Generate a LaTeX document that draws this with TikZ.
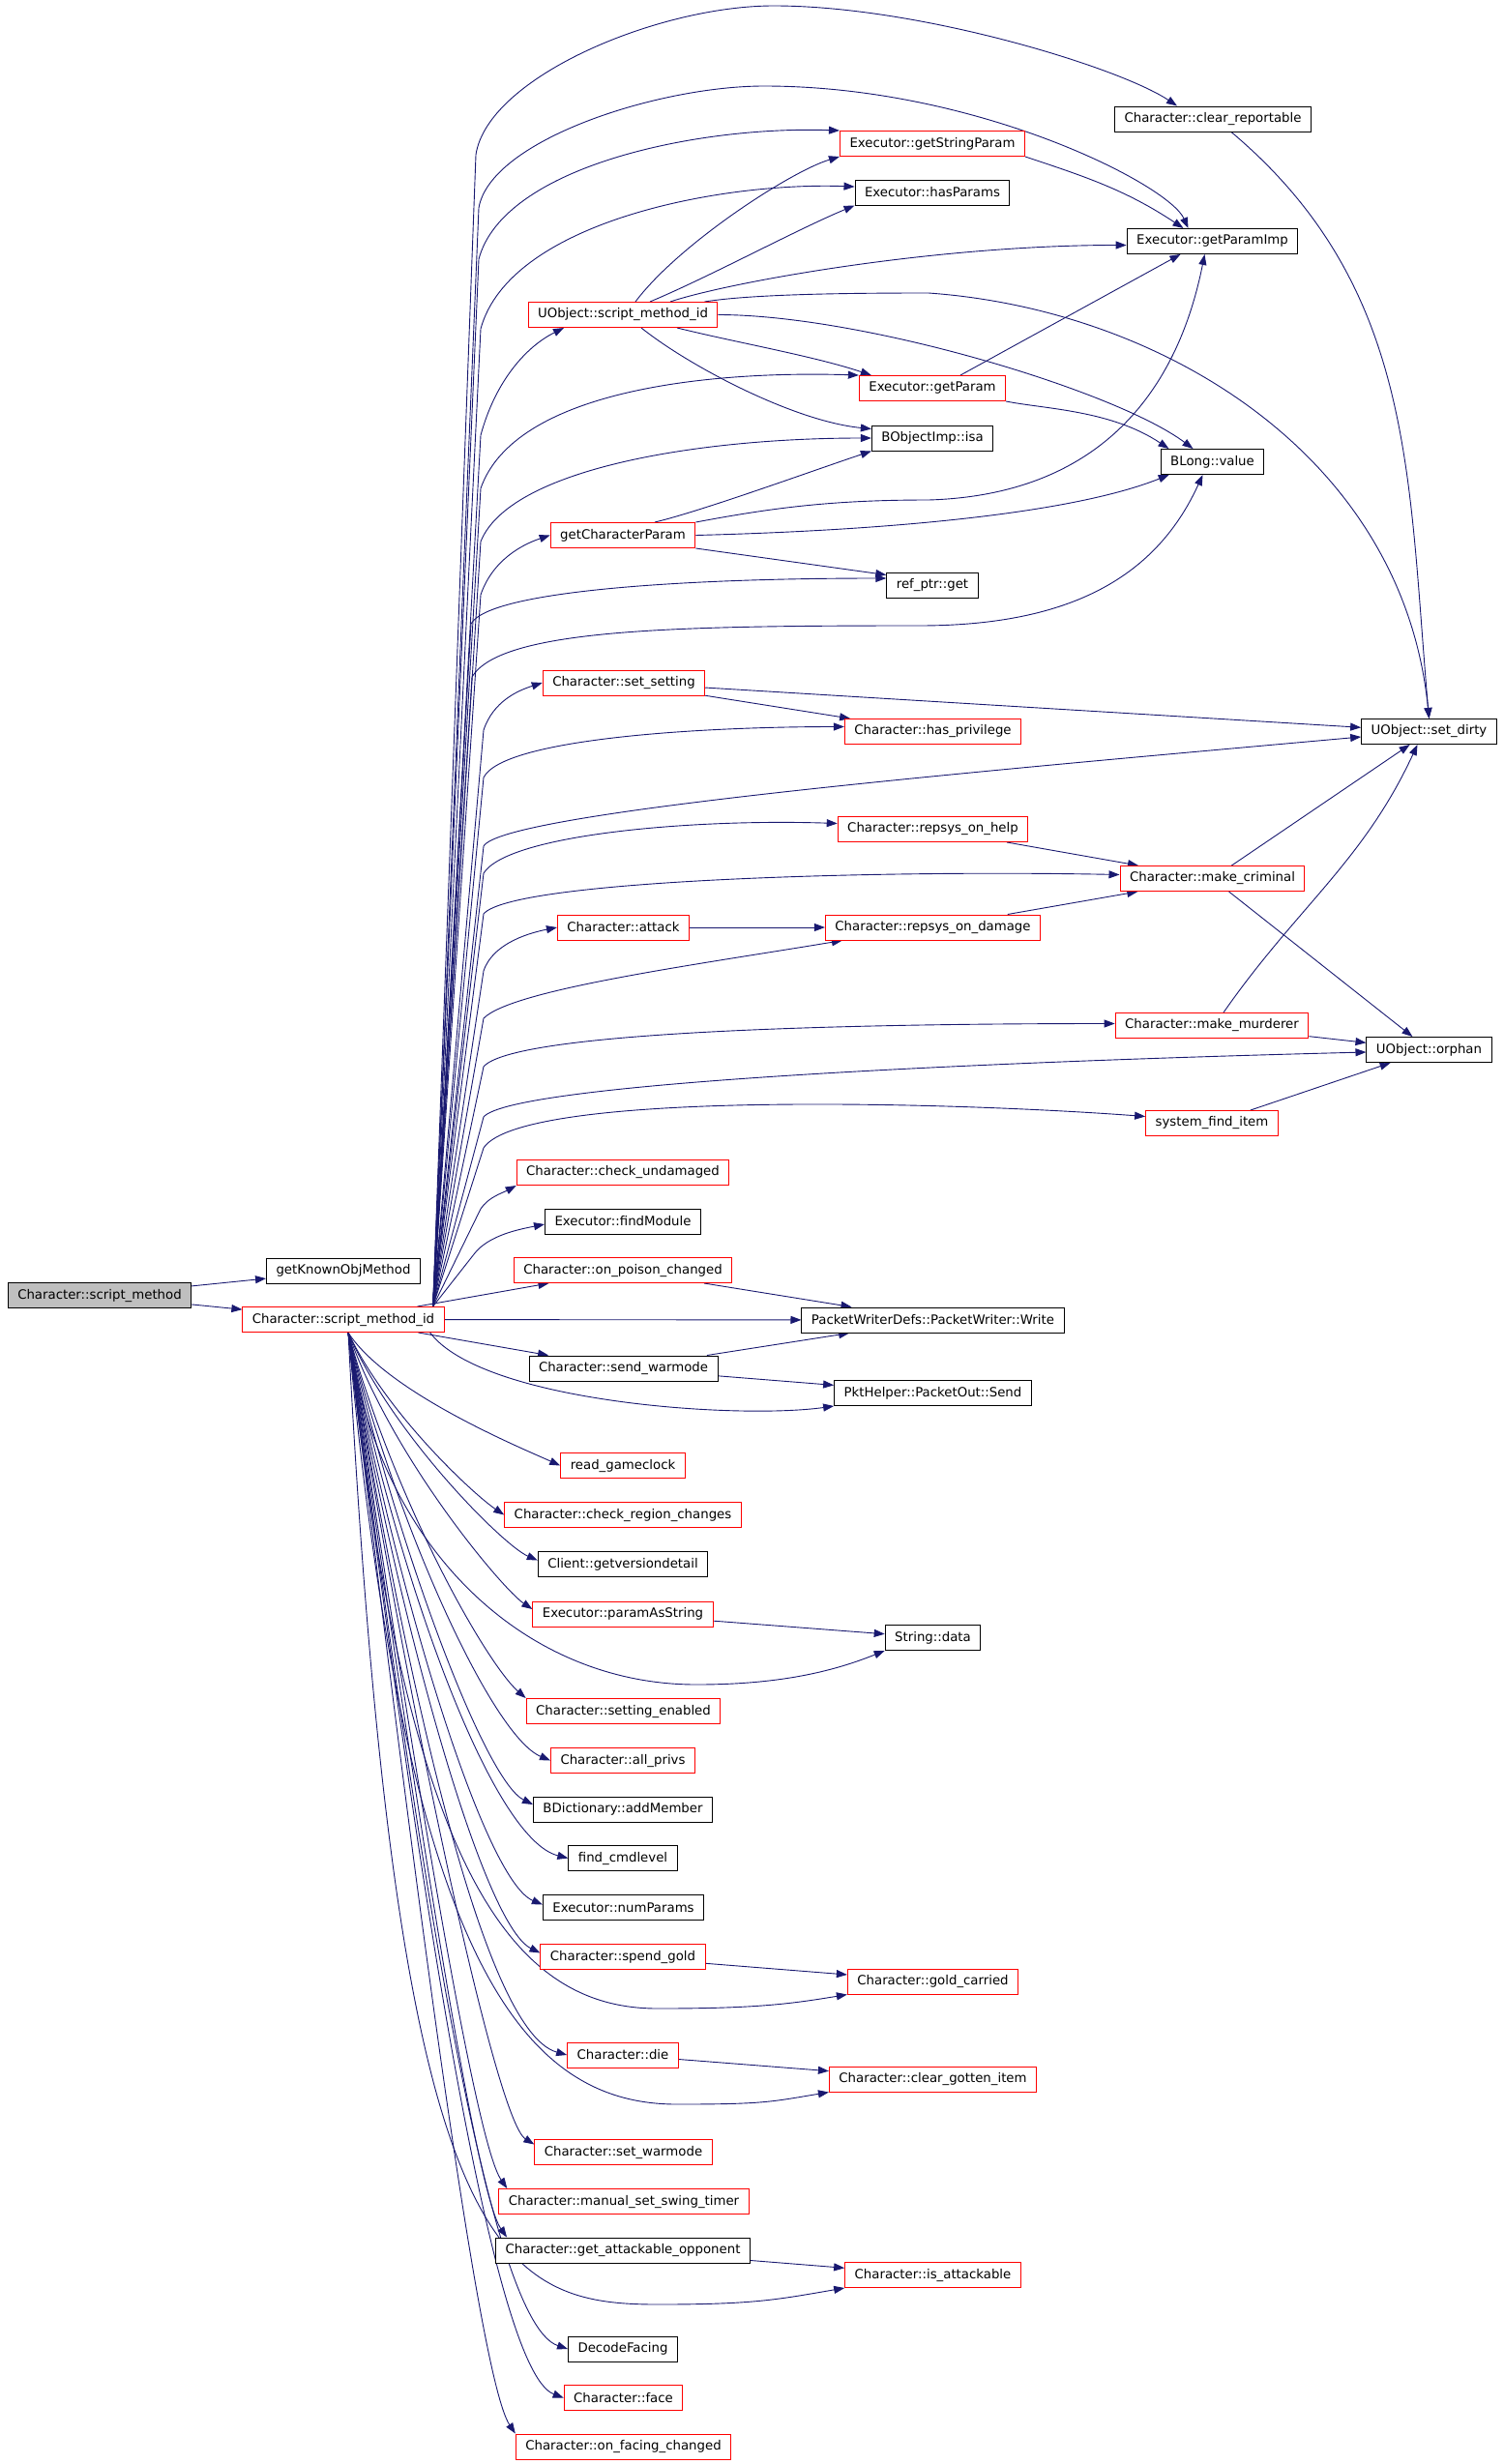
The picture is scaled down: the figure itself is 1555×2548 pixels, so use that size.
\documentclass[tikz,border=0pt]{standalone}
\usepackage{fontspec}
\setmainfont{DejaVu Sans}
\usetikzlibrary{arrows.meta,backgrounds}
\definecolor{edgeblue}{HTML}{191970}
\definecolor{rootgray}{HTML}{BFBFBF}

\begin{document}
\begin{tikzpicture}[x=1pt,y=1pt,
    fn/.style={draw=black, line width=1pt, fill=white, font=\fontsize{13.3}{16}\selectfont,
               minimum height=26pt, inner xsep=10pt, inner ysep=0pt},
    fnred/.style={fn, draw=red},
    call/.style={draw=edgeblue, line width=0.9pt, -{Triangle[length=11pt,width=8pt]}}]

        \useasboundingbox (0,0) rectangle (1555,-2548);

        % Radice e primo livello
        \node[fn, fill=rootgray] (root) at (103,-1339.5) {Character::script\_method};
        \node[fn] (gkom) at (355,-1314) {getKnownObjMethod};
        \node[fnred] (smid) at (355,-1364.5) {Character::script\_method\_id};

        % Seconda colonna
        \node[fnred] (uosmid) at (644,-325.5) {UObject::script\_method\_id};
        \node[fnred] (gcp) at (644,-553.5) {getCharacterParam};
        \node[fnred] (sset) at (645,-706) {Character::set\_setting};
        \node[fnred] (atk) at (644.5,-959) {Character::attack};
        \node[fnred] (chku) at (644,-1212.5) {Character::check\_undamaged};
        \node[fn] (fmod) at (644,-1263) {Executor::findModule};
        \node[fnred] (poison) at (644,-1313.5) {Character::on\_poison\_changed};
        \node[fn] (swarm) at (644.5,-1415) {Character::send\_warmode};
        \node[fnred] (rgc) at (644,-1515.5) {read\_gameclock};
        \node[fnred] (crc) at (644,-1566.5) {Character::check\_region\_changes};
        \node[fn] (gvd) at (644,-1617.5) {Client::getversiondetail};
        \node[fnred] (pas) at (644,-1669) {Executor::paramAsString};
        \node[fnred] (senab) at (644.5,-1769.5) {Character::setting\_enabled};
        \node[fnred] (aprivs) at (644,-1820.5) {Character::all\_privs};
        \node[fn] (addm) at (644,-1871) {BDictionary::addMember};
        \node[fn] (fcmd) at (644,-1921.5) {find\_cmdlevel};
        \node[fn] (nump) at (644.5,-1972.5) {Executor::numParams};
        \node[fnred] (spend) at (644,-2023.5) {Character::spend\_gold};
        \node[fnred] (die) at (644,-2125) {Character::die};
        \node[fnred] (setwm) at (644.5,-2225.5) {Character::set\_warmode};
        \node[fnred] (mswing) at (645,-2276.5) {Character::manual\_set\_swing\_timer};
        \node[fn] (gao) at (644,-2327) {Character::get\_attackable\_opponent};
        \node[fn] (decf) at (644,-2429) {DecodeFacing};
        \node[fnred] (face) at (644.5,-2479.5) {Character::face};
        \node[fnred] (ofc) at (644.5,-2530) {Character::on\_facing\_changed};

        % Terza colonna
        \node[fnred] (gsp) at (964,-148.5) {Executor::getStringParam};
        \node[fn] (hasp) at (964,-199) {Executor::hasParams};
        \node[fnred] (gparam) at (964,-401.5) {Executor::getParam};
        \node[fn] (isa) at (964,-453) {BObjectImp::isa};
        \node[fn] (refget) at (964,-605) {ref\_ptr::get};
        \node[fnred] (hpriv) at (964.5,-756.5) {Character::has\_privilege};
        \node[fnred] (rhelp) at (964.5,-857.5) {Character::repsys\_on\_help};
        \node[fnred] (rdmg) at (964.5,-959) {Character::repsys\_on\_damage};
        \node[fn] (pwrite) at (964.5,-1365) {PacketWriterDefs::PacketWriter::Write};
        \node[fn] (psend) at (964.5,-1440.5) {PktHelper::PacketOut::Send};
        \node[fn] (sdata) at (964.5,-1693.5) {String::data};
        \node[fnred] (gold) at (964.5,-2049) {Character::gold\_carried};
        \node[fnred] (cgi) at (964.5,-2150) {Character::clear\_gotten\_item};
        \node[fnred] (isatk) at (964.5,-2352.5) {Character::is\_attackable};

        % Quarta e quinta colonna
        \node[fn] (crep) at (1254,-123) {Character::clear\_reportable};
        \node[fn] (gpi) at (1253.5,-249.5) {Executor::getParamImp};
        \node[fn] (blong) at (1253.5,-477.5) {BLong::value};
        \node[fnred] (mcrim) at (1253.5,-908.5) {Character::make\_criminal};
        \node[fnred] (mmurd) at (1253,-1060.5) {Character::make\_murderer};
        \node[fnred] (sfi) at (1253,-1161.5) {system\_find\_item};
        \node[fn] (sdirty) at (1477.5,-756.5) {UObject::set\_dirty};
        \node[fn] (orphan) at (1477.5,-1085.5) {UObject::orphan};

        \coordinate (up) at ([xshift=-12pt]smid.north east);
        \coordinate (dn) at ([xshift=5pt]smid.south);

        \begin{scope}[on background layer]
        % Archi dritti
        \foreach \a/\b in {root/gkom, root/smid, smid/poison, smid/pwrite, smid/swarm,
                           sset/hpriv, sset/sdirty, rhelp/mcrim, atk/rdmg, rdmg/mcrim,
                           mcrim/sdirty, mcrim/orphan, mmurd/orphan, sfi/orphan,
                           poison/pwrite, swarm/pwrite, swarm/psend, pas/sdata,
                           spend/gold, die/cgi, gao/isatk}
          \draw[call] (\a) -- (\b);

        \draw[call] ([xshift=-15pt]smid.south east) .. controls +(54,-72) and +(-100,-14) .. (psend.south west);

        % Fascio verso l'alto
        \draw[call] (up) -- (492,-160) .. controls +(12,80) and +(-120,0) .. (800,-6)
                    .. controls +(150,0) and +(-60,40) .. ([xshift=-37pt]crep.north);
        \draw[call] (up) -- (495,-215) .. controls +(12,70) and +(-110,0) .. (790,-89)
                    .. controls +(220,0) and +(-20,45) .. ([xshift=-25pt]gpi.north);
        \draw[call] (up) -- (495,-268) .. controls +(25,95) and +(-150,5) .. (gsp.north west);
        \draw[call] (up) -- (497,-340) .. controls +(30,110) and +(-140,5) .. ([yshift=6pt]hasp.west);
        \draw[call] (up) -- (497,-450) .. controls +(15,55) and +(-40,-20) .. ([xshift=-61pt]uosmid.south);
        \draw[call] (up) -- (497,-505) .. controls +(35,100) and +(-160,5) .. (gparam.north west);
        \draw[call] (up) -- (497,-560) .. controls +(30,75) and +(-180,0) .. (isa.west);
        \draw[call] (up) -- (497,-615) .. controls +(12,35) and +(-30,-10) .. (gcp.west);
        \draw[call] (up) -- (487,-645) .. controls +(20,35) and +(-200,0) .. ([yshift=7pt]refget.west);
        \draw[call] (up) -- (488,-700) .. controls +(30,50) and +(-250,0) .. (950,-647)
                    .. controls +(150,0) and +(-50,-110) .. ([xshift=-10pt]blong.south);
        \draw[call] (up) -- (500,-755) .. controls +(10,30) and +(-25,-8) .. (sset.west);
        \draw[call] (up) -- (500,-804) .. controls +(20,40) and +(-150,0) .. ([yshift=5pt]hpriv.west);
        \draw[call] (up) -- (500,-875) .. controls +(20,35) and +(-400,-36) .. ([yshift=-5.5pt]sdirty.west);
        \draw[call] (up) -- (500,-903) .. controls +(25,40) and +(-150,5) .. ([yshift=6pt]rhelp.west);
        \draw[call] (up) -- (500,-945) .. controls +(30,35) and +(-250,5) .. ([yshift=4pt]mcrim.west);
        \draw[call] (up) -- (500,-1004) .. controls +(10,30) and +(-25,-5) .. (atk.west);
        \draw[call] (up) -- (500,-1053) .. controls +(30,30) and +(-150,-25) .. ([xshift=18pt]rdmg.south west);
        \draw[call] (up) -- (500,-1103) .. controls +(30,35) and +(-300,0) .. ([yshift=2pt]mmurd.west);
        \draw[call] (up) -- (500,-1155) .. controls +(30,35) and +(-400,-10) .. ([yshift=-2.5pt]orphan.west);
        \draw[call] (up) -- (500,-1187) .. controls +(40,60) and +(-200,15) .. ([yshift=7pt]sfi.west);
        \draw[call] (up) -- (497,-1250) .. controls +(8,12) and +(-15,-8) .. (chku.south west);
        \draw[call] (up) -- (490,-1297) .. controls +(15,20) and +(-25,-5) .. ([yshift=-3pt]fmod.west);

        % Fascio verso il basso
        \draw[call] (dn) .. controls +(40,-62) and +(-40,18) .. (rgc.west);
        \draw[call] (dn) .. controls +(40,-85) and +(-30,20) .. (crc.west);
        \draw[call] (dn) .. controls +(45,-105) and +(-35,15) .. ([yshift=4pt]gvd.west);
        \draw[call] (dn) .. controls +(45,-130) and +(-30,20) .. ([yshift=5pt]pas.west);
        \draw[call] (dn) .. controls +(30,-220) and +(-180,0) .. (720,-1742)
                    .. controls +(90,0) and +(-50,-20) .. (sdata.south west);
        \draw[call] (dn) .. controls +(50,-180) and +(-40,35) .. (senab.north west);
        \draw[call] (dn) .. controls +(50,-200) and +(-60,25) .. (aprivs.west);
        \draw[call] (dn) .. controls +(50,-220) and +(-50,25) .. ([yshift=5pt]addm.west);
        \draw[call] (dn) .. controls +(50,-250) and +(-80,20) .. (fcmd.west);
        \draw[call] (dn) .. controls +(50,-270) and +(-60,25) .. ([yshift=3pt]nump.west);
        \draw[call] (dn) .. controls +(50,-290) and +(-60,30) .. ([yshift=4pt]spend.west);
        \draw[call] (dn) .. controls +(60,-560) and +(-150,0) .. (680,-2077)
                    .. controls +(100,0) and +(-60,-10) .. (gold.south west);
        \draw[call] (dn) .. controls +(55,-330) and +(-90,25) .. (die.west);
        \draw[call] (dn) .. controls +(60,-650) and +(-160,0) .. (700,-2176)
                    .. controls +(90,0) and +(-60,-10) .. (cgi.south west);
        \draw[call] (dn) .. controls +(60,-380) and +(-40,25) .. ([yshift=8pt]setwm.west);
        \draw[call] (dn) .. controls +(60,-400) and +(-35,50) .. ([xshift=9pt]mswing.north west);
        \draw[call] (dn) .. controls +(60,-420) and +(-35,50) .. ([xshift=12pt]gao.north west);
        \draw[call] (dn) .. controls +(50,-950) and +(-170,0) .. (680,-2383)
                    .. controls +(100,0) and +(-70,-12) .. (isatk.south west);
        \draw[call] (dn) .. controls +(60,-450) and +(-90,30) .. (decf.west);
        \draw[call] (dn) .. controls +(60,-470) and +(-80,30) .. (face.west);
        \draw[call] (dn) .. controls +(60,-500) and +(-40,60) .. (ofc.north west);

        % Archi di UObject::script_method_id
        \draw[call] ([xshift=13pt]uosmid.north) .. controls +(45,60) and +(-50,-15) .. (gsp.south west);
        \draw[call] ([xshift=28pt]uosmid.north) .. controls +(60,25) and +(-60,-25) .. (hasp.south west);
        \draw[call] ([xshift=49pt]uosmid.north) .. controls +(60,20) and +(-200,0) .. ([yshift=-4pt]gpi.west);
        \draw[call] ([xshift=-14pt]uosmid.north east) .. controls +(50,8) and +(-80,0) .. (960,-303)
                    .. controls +(240,-17) and +(-27,273) .. (sdirty.north);
        \draw[call] (uosmid.east) .. controls +(150,0) and +(-80,60) .. ([xshift=-20pt]blong.north);
        \draw[call] ([xshift=56pt]uosmid.south) .. controls +(60,-15) and +(-60,20) .. ([xshift=13pt]gparam.north west);
        \draw[call] ([xshift=19pt]uosmid.south) .. controls +(50,-40) and +(-80,8) .. ([yshift=-4pt]isa.north west);

        % Archi di getCharacterParam
        \draw[call] ([xshift=33pt]gcp.north) .. controls +(50,12) and +(-60,-20) .. (isa.south west);
        \draw[call] (gcp.north east) .. controls +(80,15) and +(-100,0) .. (960,-517)
                    .. controls +(170,5) and +(-30,-150) .. ([xshift=-8pt]gpi.south);
        \draw[call] (gcp.east) .. controls +(200,5) and +(-100,-40) .. ([xshift=9pt]blong.south west);
        \draw[call] (gcp.south east) -- ([yshift=-3pt]refget.north west);

        % Altri archi
        \draw[call] (gsp.south east) .. controls +(60,-20) and +(-60,40) .. ([xshift=-30pt]gpi.north);
        \draw[call] ([xshift=29pt]gparam.north) -- ([xshift=-33pt]gpi.south);
        \draw[call] (gparam.south east) .. controls +(40,-8) and +(-60,40) .. ([xshift=-45pt]blong.north);
        \draw[call] ([xshift=19pt]crep.south) .. controls +(191,-161) and +(-22,249) .. (sdirty.north);
        \draw[call] ([xshift=12pt]mmurd.north) .. controls +(76,109) and +(-56,-121) .. ([xshift=-12pt]sdirty.south);
        \end{scope}

\end{tikzpicture}
\end{document}
